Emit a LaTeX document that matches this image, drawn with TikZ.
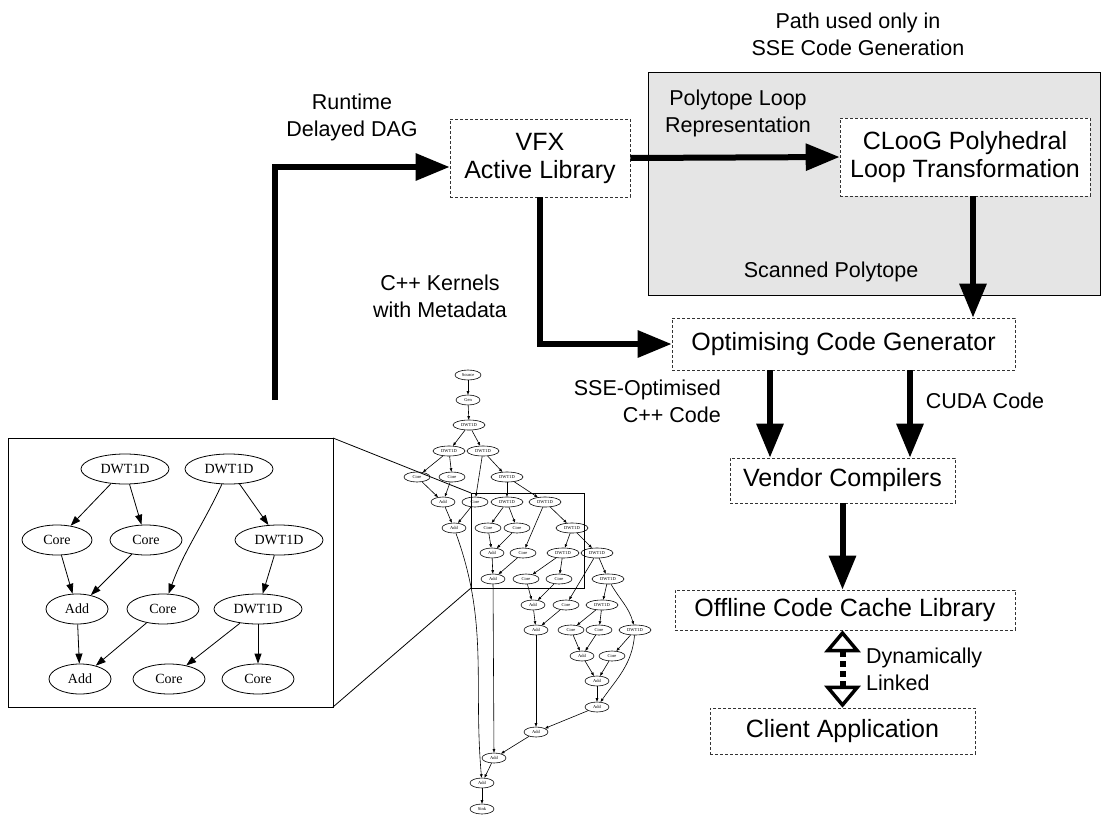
\documentclass[tikz,border=0pt]{standalone}
\usepackage{fontspec}
\setmainfont{Liberation Sans}
\newfontfamily\dagfont{Liberation Serif}
\usetikzlibrary{arrows.meta,shapes.geometric}
\begin{document}
\begin{tikzpicture}[x=1pt,y=-1pt,
  box/.style={draw=black!80, densely dashed, line width=0.6pt, fill=white, align=center, inner sep=0pt, font=\fontsize{25}{28}\selectfont},
  lbl/.style={align=center, inner sep=0pt, font=\fontsize{21.5}{27}\selectfont},
  big/.style={line width=6pt, -{Triangle[length=34pt,width=26pt]}},
  otip/.tip={Triangle[open,length=22pt,width=36pt,line width=3.5pt]},
  opentip/.style={line width=6pt, dash pattern=on 6pt off 4pt, otip-otip},
  dn/.style={ellipse, draw, line width=0.8pt, inner sep=0pt, minimum height=30pt, font=\dagfont\fontsize{14}{14}\selectfont},
  de/.style={line width=0.8pt, -{Triangle[length=10pt,width=7pt]}},
  sn/.style={ellipse, draw, line width=0.6pt, inner sep=0pt, minimum height=10pt, font=\dagfont\fontsize{4.5}{4.5}\selectfont},
  sw/.style={sn, minimum width=32pt},
  sc/.style={sn, minimum width=26pt},
  sa/.style={sn, minimum width=24pt},
  se/.style={line width=0.6pt, -{Triangle[length=3.5pt,width=2.6pt]}},
]
\useasboundingbox (0,0) rectangle (1113,814);

% grey region
\fill[gray!20] (648,72) rectangle (1100,295);
\draw[line width=0.6pt] (648,72) rectangle (1100,295);

% labels
\node[lbl] (lpath) at (858,34) {Path used only in\\SSE Code Generation};
\node[lbl] (lrun) at (352,117) {Runtime\\Delayed DAG};
\node[lbl] (lpoly) at (738,113) {Polytope Loop\\Representation};
\node[lbl] (lscan) at (831,272) {Scanned Polytope};
\node[lbl] (lker) at (440,296) {C++ Kernels\\with Metadata};
\node[lbl, align=right, anchor=east] (lsse) at (721,401) {SSE-Optimised\\C++ Code};
\node[lbl] (lcuda) at (985,401) {CUDA Code};
\node[lbl, align=left, anchor=west] (ldyn) at (866,669) {Dynamically\\Linked};

% boxes
\node[box, minimum width=180pt, minimum height=78pt] (vfx) at (540,158) {VFX\\Active Library};
\node[box, minimum width=250pt, minimum height=78pt] (cloog) at (965,157) {CLooG Polyhedral\\Loop Transformation};
\node[box, minimum width=343pt, minimum height=52pt] (opt) at (843.5,344) {Optimising Code Generator};
\node[box, minimum width=225pt, minimum height=45pt] (vend) at (842.5,480.5) {Vendor Compilers};
\node[box, minimum width=340pt, minimum height=40pt] (off) at (845,610) {Offline Code Cache Library};
\node[box, minimum width=265pt, minimum height=46pt] (cli) at (842.5,731) {Client Application};

% thick connectors
\coordinate (dagin) at (275,400);
\draw[big] (dagin) |- ([yshift=-9pt]vfx.west);
\draw[big] (vfx.east) -- (cloog.west);
\draw[big] ([xshift=8pt]cloog.south) -- ([xshift=8pt]cloog.south |- opt.north);
\draw[big] (vfx.south) |- (opt.west);
\draw[big] ([xshift=-73.5pt]opt.south) -- ([xshift=-73.5pt]opt.south |- vend.north);
\draw[big] ([xshift=66.5pt]opt.south) -- ([xshift=66.5pt]opt.south |- vend.north);
\draw[big] (vend.south) -- (vend.south |- off.north);
\draw[opentip] ([xshift=-2.5pt]off.south) -- ([xshift=-2.5pt]off.south |- cli.north);

% inset
\draw[line width=0.8pt] (8,438) rectangle (333,707);
\draw[line width=0.8pt] (471,493) rectangle (584,588);
\coordinate (itr) at (333,438);
\coordinate (ibr) at (333,707);
\coordinate (ztl) at (471,493);
\coordinate (zbl) at (471,588);
\draw[line width=0.8pt] (itr) -- (ztl);
\draw[line width=0.8pt] (ibr) -- (zbl);

\node[dn, minimum width=88pt] (iA) at (125,469) {DWT1D};
\node[dn, minimum width=88pt] (iB) at (229,469) {DWT1D};
\node[dn, minimum width=70pt] (iC1) at (57,540) {Core};
\node[dn, minimum width=72pt] (iC2) at (146,540) {Core};
\node[dn, minimum width=88pt] (iC3) at (279,540) {DWT1D};
\node[dn, minimum width=62pt] (iD1) at (77,609) {Add};
\node[dn, minimum width=72pt] (iD2) at (163,609) {Core};
\node[dn, minimum width=88pt] (iD3) at (258,609) {DWT1D};
\node[dn, minimum width=62pt] (iE1) at (80,679) {Add};
\node[dn, minimum width=72pt] (iE2) at (169,679) {Core};
\node[dn, minimum width=72pt] (iE3) at (258,679) {Core};
\draw[de] (iA) -- (iC1);
\draw[de] (iA) -- (iC2);
\draw[de] (iB) to[out=-115,in=70] (iD2);
\draw[de] (iB) -- (iC3);
\draw[de] (iC1) -- (iD1);
\draw[de] (iC2) -- (iD1);
\draw[de] (iC3) -- (iD3);
\draw[de] (iD1) -- (iE1);
\draw[de] (iD2) -- (iE1);
\draw[de] (iD3) -- (iE2);
\draw[de] (iD3) -- (iE3);

% small DAG
\node[sc] (src) at (468,375) {Source};
\node[sa] (gen) at (468,400) {Gen};
\node[sw] (w1) at (469,425) {DWT1D};
\node[sw] (w2) at (449,451) {DWT1D};
\node[sw] (w3) at (483,451) {DWT1D};
\node[sc] (c1) at (417,477) {Core};
\node[sc] (c2) at (452,477) {Core};
\node[sw] (w4) at (507,477) {DWT1D};
\node[sa] (a1) at (443,502) {Add};
\node[sc] (c3) at (475,502) {Core};
\node[sw] (w5) at (507,502) {DWT1D};
\node[sw] (w6) at (545,502) {DWT1D};
\node[sa] (a2) at (454,528) {Add};
\node[sc] (c4) at (488,528) {Core};
\node[sc] (c5) at (517,528) {Core};
\node[sw] (w7) at (572,528) {DWT1D};
\node[sa] (a3) at (492,553) {Add};
\node[sc] (c6) at (523,553) {Core};
\node[sw] (w8) at (563,553) {DWT1D};
\node[sw] (w9) at (597,553) {DWT1D};
\node[sa] (a4) at (493,579) {Add};
\node[sc] (c7) at (526,579) {Core};
\node[sc] (c8) at (559,579) {Core};
\node[sw] (w10) at (608,579) {DWT1D};
\node[sa] (a5) at (533,605) {Add};
\node[sc] (c9) at (566,605) {Core};
\node[sw] (w11) at (602,605) {DWT1D};
\node[sa] (a6) at (536,630) {Add};
\node[sc] (c10) at (571,630) {Core};
\node[sc] (c11) at (599,630) {Core};
\node[sw] (w12) at (635,630) {DWT1D};
\node[sa] (a7) at (582,656) {Add};
\node[sc] (c12) at (612,656) {Core};
\node[sa] (a8) at (597,681) {Add};
\node[sa] (a9) at (597,707) {Add};
\node[sa] (a10) at (536,732) {Add};
\node[sa] (a11) at (494,758) {Add};
\node[sa] (a12) at (482,783) {Add};
\node[sa] (sink) at (482,809) {Sink};

\foreach \s/\t in {src/gen,gen/w1,w1/w2,w1/w3,w2/c1,w2/c2,w3/w4,w3/c3,c1/a1,c2/a1,a1/a2,c3/a2,
  w4/w5,w4/w6,w5/c4,w5/c5,w6/w7,w6/c6,c4/a3,c5/a3,a3/a4,c6/a4,w7/w8,w7/w9,w8/c7,w8/c8,
  w9/w10,w9/c9,c7/a5,c8/a5,a5/a6,c9/a6,w10/w11,w11/c10,w11/c11,w12/c12,
  c10/a7,c11/a7,a7/a8,c12/a8,a8/a9,a9/a10,a6/a10,a10/a11,a4/a11,a11/a12,a12/sink}
  \draw[se] (\s) -- (\t);
\draw[se] (w10) to[out=-60,in=105] (w12);
\draw[se] (w12) to[out=-95,in=55] (a9);
\draw[se] (a2) to[out=-70,in=95] (a12);
\end{tikzpicture}
\end{document}
